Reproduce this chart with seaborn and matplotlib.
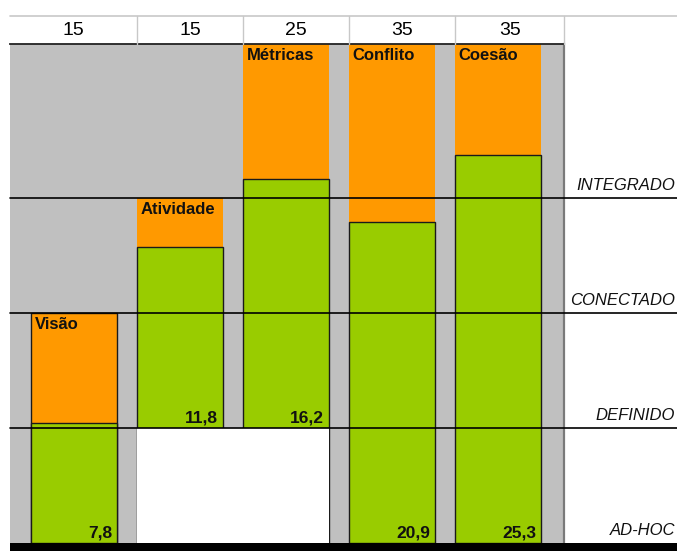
import matplotlib
matplotlib.use("Agg")
import matplotlib.pyplot as plt
import matplotlib.transforms as mtransforms
from matplotlib.patches import Rectangle
from matplotlib.lines import Line2D
import pandas as pd
import seaborn as sns

# Maturity dimensions, maximum score and achieved score
categories = ["Visão", "Atividade", "Métricas", "Conflito", "Coesão"]
max_scores = [15, 15, 25, 35, 35]
scores = [7.8, 11.8, 16.2, 20.9, 25.3]
start_level = [0, 1, 1, 0, 0]          # maturity level each dimension starts from
levels = ["AD-HOC", "DEFINIDO", "CONECTADO", "INTEGRADO"]
LEVEL_STEP = 7.5                        # score points per maturity level

ORANGE = "#FF9900"
GREEN = "#99CC00"
GRAY = "#C0C0C0"

sns.set_theme(style="white")
plt.rcParams["font.family"] = ["Liberation Sans", "DejaVu Sans"]

W, H = 677, 551
fig = plt.figure(figsize=(W / 100, H / 100), dpi=100)

# main plot area (pixel frame)
L, R, T, B = 10, 564, 44, 543
ax = fig.add_axes([L / W, 1 - B / H, (R - L) / W, (B - T) / H])
ax.set_facecolor(GRAY)

base = [lv * LEVEL_STEP for lv in start_level]
df = pd.DataFrame({
    "dimensao": categories,
    "topo_max": [b + m for b, m in zip(base, max_scores)],
    "topo_score": [b + v for b, v in zip(base, scores)],
})

bar_w = 0.81
sns.barplot(data=df, x="dimensao", y="topo_max", color=ORANGE, width=bar_w,
            saturation=1, linewidth=0, edgecolor="none", ax=ax)
n = len(categories)
sns.barplot(data=df, x="dimensao", y="topo_score", color=GREEN, width=bar_w,
            saturation=1, linewidth=1.0, edgecolor="#1a1a1a", ax=ax)

orange_bars = ax.patches[:n]
# the first dimension's range is outlined
orange_bars[0].set_edgecolor("#1a1a1a")
orange_bars[0].set_linewidth(1.0)

xmin, xmax = -0.605, 4.62
ymax = 32.5
ax.set_xlim(xmin, xmax)
ax.set_ylim(0, ymax)
ax.set_xlabel("")
ax.set_ylabel("")
ax.set_xticks([])
ax.set_yticks([])

# blank area beneath dimensions that start above the first level
i = 0
while i < n:
    if start_level[i] > 0:
        j = i
        while j + 1 < n and start_level[j + 1] == start_level[i]:
            j += 1
        ax.add_patch(Rectangle((i - bar_w / 2, 0), (j - i) + bar_w,
                               start_level[i] * LEVEL_STEP,
                               facecolor="white", edgecolor="none", zorder=1.5))
        i = j + 1
    else:
        i += 1

for s in ["left", "bottom"]:
    ax.spines[s].set_visible(False)
ax.spines["top"].set_color("#222222")
ax.spines["top"].set_linewidth(1.3)
ax.spines["right"].set_color("#7a7a7a")
ax.spines["right"].set_linewidth(1.6)

# level boundaries, running out to the right margin
for k in range(1, len(levels)):
    ax.plot([xmin, 7], [k * LEVEL_STEP] * 2, color="black", lw=1.2,
            clip_on=False, zorder=4)

# level names along the right margin
trans = mtransforms.blended_transform_factory(fig.transFigure, ax.transData)
for k, name in enumerate(levels):
    ax.annotate(name, xy=(675 / W, k * LEVEL_STEP), xycoords=trans,
                xytext=(0, 3.5), textcoords="offset points",
                ha="right", va="bottom", fontsize=12, fontstyle="italic",
                color="#111111", annotation_clip=False)

# dimension names and achieved scores
for idx in range(n):
    top = min(base[idx] + max_scores[idx], ymax)
    ax.annotate(categories[idx], xy=(idx - bar_w / 2, top),
                xytext=(2.5, -3), textcoords="offset points",
                ha="left", va="top", fontsize=12, fontweight="bold",
                color="#111111", zorder=5)
    ax.annotate(f"{scores[idx]:.1f}".replace(".", ","),
                xy=(idx + bar_w / 2, base[idx]),
                xytext=(-3.5, 2), textcoords="offset points",
                ha="right", va="bottom", fontsize=12.5, fontweight="bold",
                color="#111111", zorder=5)

# header row with the maximum score of each dimension
hx = fig.add_axes([L / W, 1 - T / H, (R - L) / W, (T - 16) / H])
hx.set_xlim(xmin, xmax)
hx.set_ylim(0, 1)
hx.axis("off")
edges = [xmin] + [i - bar_w / 2 for i in range(1, n)] + [xmax]
for e in edges[1:]:
    hx.plot([e, e], [0, 1], color="#c8c8c8", lw=1.0, clip_on=False)
for idx in range(n):
    hx.text((edges[idx] + edges[idx + 1]) / 2, 0.48, str(max_scores[idx]),
            ha="center", va="center", fontsize=14, color="black")
fig.add_artist(Line2D([L / W, 1], [1 - 16 / H] * 2, color="#c8c8c8", lw=1.2))

# heavy baseline
fig.add_artist(Rectangle((L / W, 0), 1, 8 / H, transform=fig.transFigure,
                         facecolor="black", edgecolor="none"))

fig.savefig("out.png", dpi=100, facecolor="white")
